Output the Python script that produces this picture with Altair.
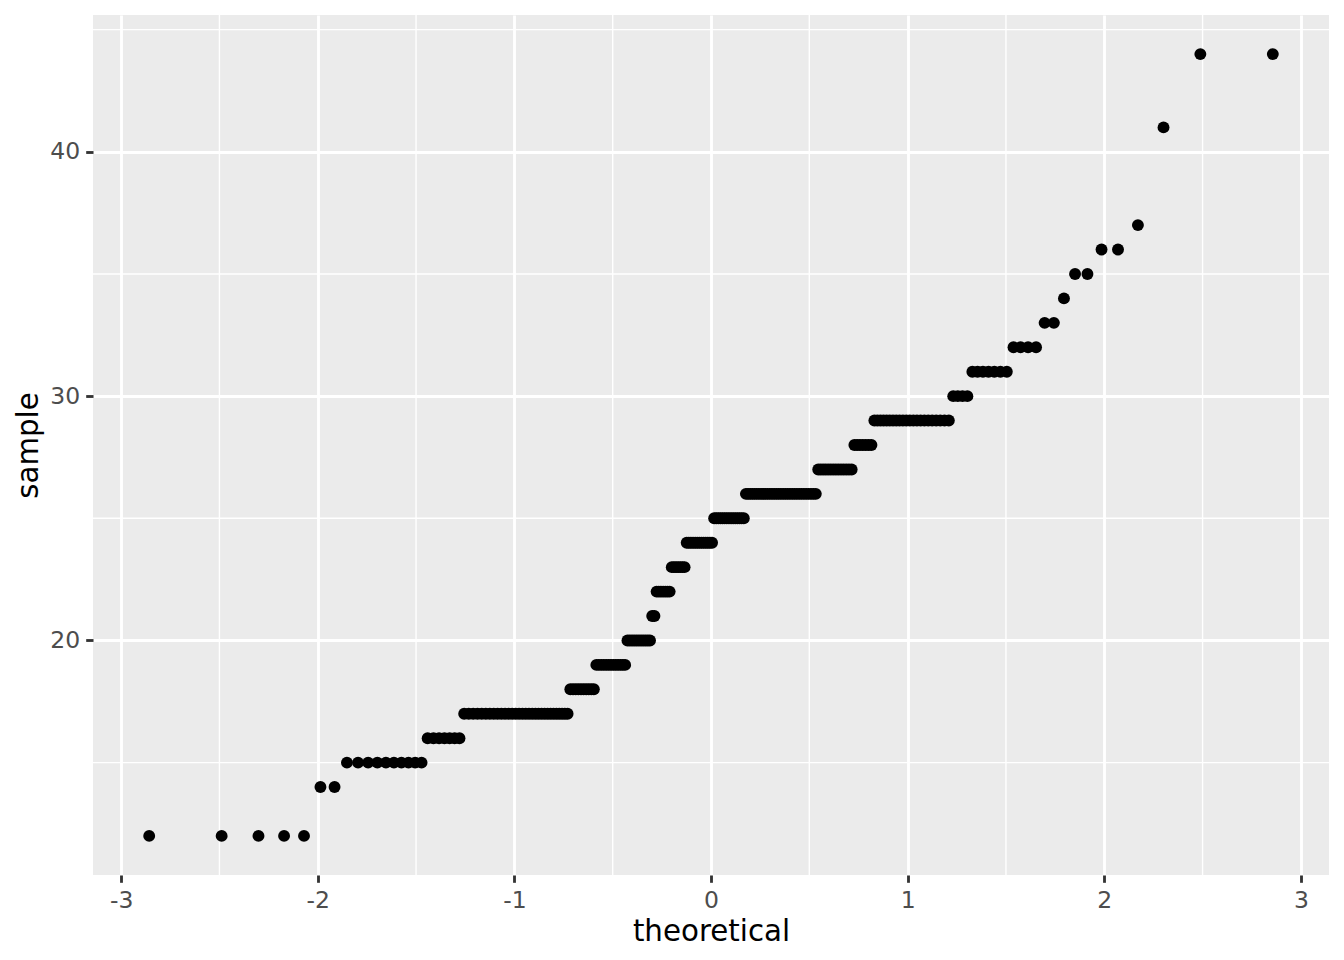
import altair as alt
import pandas as pd

# Sample (highway mpg) values and how many times each occurs
hwy_values = [12, 14, 15, 16, 17, 18, 19, 20, 21, 22, 23, 24, 25, 26, 27, 28, 29,
              30, 31, 32, 33, 34, 35, 36, 37, 41, 44]
hwy_counts = [5, 2, 10, 7, 31, 10, 13, 11, 2, 7, 7, 13, 15, 32, 14, 7, 22,
              4, 7, 4, 2, 1, 2, 2, 1, 1, 2]

x_major = [-3, -2, -1, 0, 1, 2, 3]
x_minor = [-2.5, -1.5, -0.5, 0.5, 1.5, 2.5]
y_major = [20, 30, 40]
y_minor = [15, 25, 35, 45]

sample = []
for v, c in zip(hwy_values, hwy_counts):
    sample.extend([v] * c)
n = len(sample)

df = pd.DataFrame({"sample": sample})

x_dom = [-3.143, 3.143]
y_dom = [10.4, 45.6]

FONT = "DejaVu Sans"
W, H = 1236, 860

xscale = alt.Scale(domain=x_dom, nice=False, zero=False)
yscale = alt.Scale(domain=y_dom, nice=False, zero=False)

points = (
    alt.Chart(df)
    .transform_window(rank="row_number()", sort=[alt.SortField("sample", order="ascending")])
    .transform_calculate(theoretical=f"quantileNormal((datum.rank - 0.5) / {n})")
    .mark_circle(size=142, color="black", opacity=1)
    .encode(
        x=alt.X(
            "theoretical:Q",
            scale=xscale,
            axis=alt.Axis(
                values=x_major,
                labelExpr="'' + datum.value",
                title="theoretical",
                titleX=W / 2,
                titleY=65,
                titleBaseline="alphabetic",
                titleAlign="center",
            ),
        ),
        y=alt.Y(
            "sample:Q",
            scale=yscale,
            axis=alt.Axis(
                values=y_major,
                labelExpr="'' + datum.value",
                title="sample",
                titleX=-56,
                titleY=H / 2,
                titleAngle=-90,
                titleBaseline="alphabetic",
                titleAlign="center",
            ),
        ),
    )
)

xminor = (
    alt.Chart(pd.DataFrame({"v": x_minor}))
    .mark_rule(color="white", strokeWidth=1.4)
    .encode(x=alt.X("v:Q", scale=xscale))
)
yminor = (
    alt.Chart(pd.DataFrame({"v": y_minor}))
    .mark_rule(color="white", strokeWidth=1.4)
    .encode(y=alt.Y("v:Q", scale=yscale))
)

chart = (
    alt.layer(xminor, yminor, points)
    .properties(
        width=W,
        height=H,
        autosize=alt.AutoSizeParams(type="none"),
        padding={"left": 85, "top": 7, "right": 7, "bottom": 77},
    )
    .configure_view(fill="#EBEBEB", stroke=None)
    .configure_axis(
        grid=True,
        gridColor="white",
        gridWidth=2.85,
        domain=False,
        tickColor="#333333",
        tickWidth=2.85,
        tickSize=7.3,
        labelFont=FONT,
        labelFontSize=23.5,
        labelColor="#4D4D4D",
        labelPadding=6,
        titleFont=FONT,
        titleFontSize=29.3,
        titleFontWeight="normal",
        titleColor="black",
    )
    .configure_axisX(labelBaseline="top")
)

chart.save("out.html", embed_options={"renderer": "svg", "actions": False})
